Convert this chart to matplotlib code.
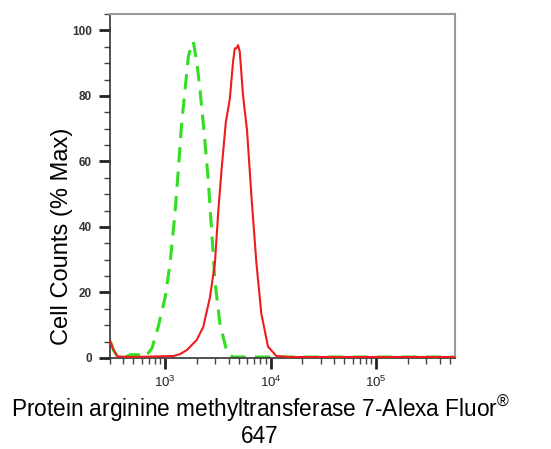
import matplotlib
matplotlib.use("Agg")
import matplotlib.pyplot as plt
import numpy as np
from matplotlib.ticker import LogLocator, FixedLocator, MultipleLocator, NullFormatter

plt.rcParams['font.family'] = ['Liberation Sans', 'DejaVu Sans']
plt.rcParams['mathtext.fontset'] = 'custom'
plt.rcParams['mathtext.rm'] = 'Liberation Sans'
plt.rcParams['mathtext.it'] = 'Liberation Sans'
plt.rcParams['mathtext.bf'] = 'Liberation Sans:bold'

# sample (red, solid): intensity vs % max
red_x = [303, 323, 352, 468, 1198, 1386, 1603, 1992, 2298, 2659, 2965, 3186,
         3427, 3761, 4102, 4406, 4571, 4742, 4917, 5100, 5480, 5975, 6575,
         7330, 8170, 9440, 11330, 15100, 556000]
red_y = [5, 2.5, 0.5, 0.3, 0.6, 1.2, 2.4, 5.5, 9.5, 18.5, 29, 44.5,
         57.5, 72, 79, 90.5, 94.5, 94.5, 95.5, 93.5, 80, 69.5, 49.5,
         29, 13.5, 3.5, 0.6, 0.3, 0.3]

# isotype control (green, dashed)
green_x = [303, 323, 352, 420, 468, 556, 647, 750, 859, 1000, 1115, 1242,
           1334, 1437, 1545, 1660, 1786, 1850, 1992, 2138, 2333, 2560, 2758,
           2965, 3306, 3872, 4406, 556000]
green_y = [5, 2.5, 0.5, 0.3, 1, 1, 0.3, 3, 9.5, 18.5, 29, 44.5,
           57.5, 72, 82, 92, 96, 96.5, 90.5, 82, 69.5, 54.5, 39,
           23.5, 10.5, 1.5, 0.3, 0.3]

y_ticks = [0, 20, 40, 60, 80, 100]
x_ticks = [1e3, 1e4, 1e5]
x_labels = ['$10^3$', '$10^4$', '$10^5$']

fig = plt.figure(figsize=(5.51, 4.49), dpi=100)
ax = fig.add_axes([110 / 551, 1 - 358 / 449, 345 / 551, 344 / 449])

ax.plot(green_x, green_y, color='#33dd22', lw=2.2, linestyle=(0, (5, 3)), zorder=2)
ax.plot(red_x, red_y, color='#ee1c1c', lw=1.5, zorder=3)

ax.set_xscale('log')
ax.set_xlim(300, 5.6e5)
ax.set_ylim(0, 105)

ax.set_yticks(y_ticks)
ax.set_yticklabels([str(v) for v in y_ticks], fontsize=8.5, fontweight='bold',
                   color='#333333')
ax.yaxis.set_minor_locator(MultipleLocator(5))

ax.xaxis.set_major_locator(FixedLocator(x_ticks))
ax.set_xticklabels(x_labels, fontsize=9.5, color='#222222')
ax.xaxis.set_minor_locator(LogLocator(base=10, subs=np.arange(2, 10), numticks=20))
ax.xaxis.set_minor_formatter(NullFormatter())

ax.tick_params(which='major', direction='out', length=8, width=2, color='#222222')
ax.tick_params(which='minor', direction='out', length=4, width=1, color='#444444')
ax.tick_params(axis='y', which='major', pad=5)
ax.tick_params(axis='x', which='major', pad=4)

for s in ['top', 'right']:
    ax.spines[s].set_color('#999999')
    ax.spines[s].set_linewidth(1.5)
for s in ['left', 'bottom']:
    ax.spines[s].set_color('#333333')
    ax.spines[s].set_linewidth(1.2)

ax.set_ylabel('Cell Counts (% Max)', fontsize=17)
ax.yaxis.set_label_coords(-0.107, 0.355)
ax.set_xlabel('Protein arginine methyltransferase 7-Alexa Fluor$^{®}$\n647',
              fontsize=16.3, linespacing=1.05)
ax.xaxis.set_label_coords(0.435, -0.104)

fig.savefig('out.png', dpi=100)
